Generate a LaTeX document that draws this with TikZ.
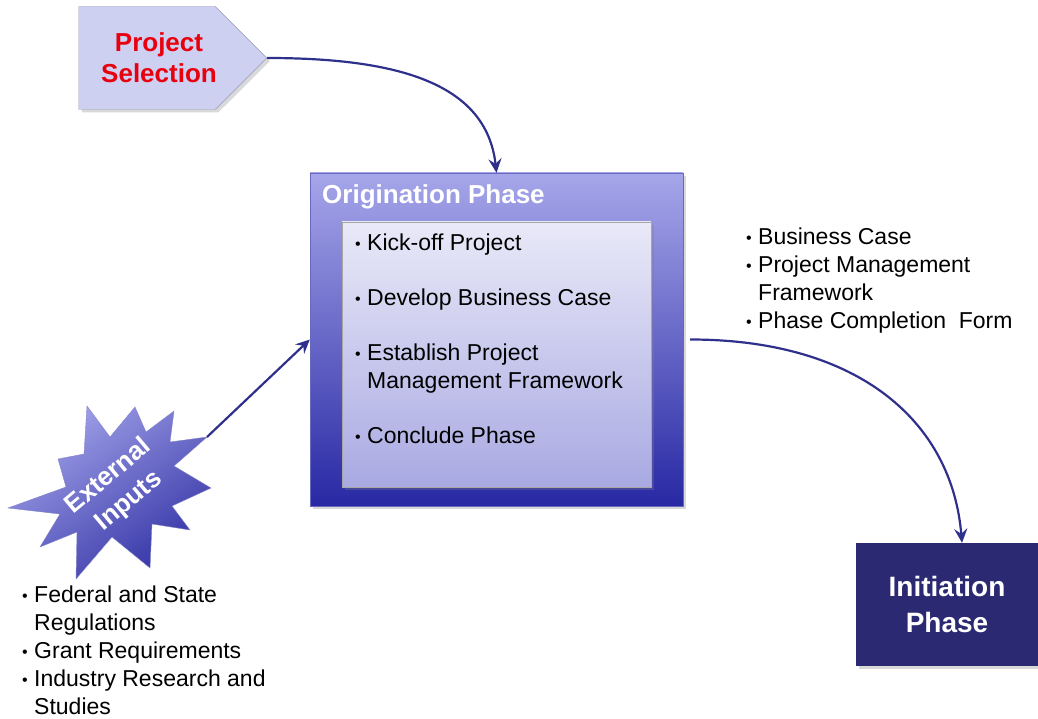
\documentclass[tikz,border=0pt]{standalone}
\usepackage{fontspec}
\setmainfont{Liberation Sans}
\usetikzlibrary{shapes.symbols,shadows,arrows.meta}

\definecolor{arrowblue}{HTML}{2F2F8C}
\definecolor{selfill}{HTML}{CDD0F1}
\definecolor{navybox}{HTML}{2A2972}
\definecolor{redtext}{HTML}{E8000E}
\definecolor{origtop}{HTML}{A6A6EA}
\definecolor{origmid}{HTML}{7E7ED8}
\definecolor{origbot}{HTML}{2828A4}
\definecolor{steptop}{HTML}{E9E9F8}
\definecolor{stepbot}{HTML}{A9A9E3}
\definecolor{starlight}{HTML}{A2A2EA}
\definecolor{stardark}{HTML}{3434A6}

\tikzset{
  flow/.style={draw=arrowblue, line width=2.2pt, -{Stealth[length=14pt,width=13pt,inset=5pt]}},
  softshadow/.style={drop shadow={opacity=0.3, shadow xshift=3pt, shadow yshift=-3pt}},
  listtext/.style={inner sep=0pt, align=left, font=\fontsize{23}{28}\selectfont}
}

\newcommand{\itm}[1]{\makebox[12pt][l]{\raisebox{1pt}{\fontsize{16}{16}\selectfont\textbullet}}#1}
\newcommand{\cnt}{\hspace*{12pt}}

\begin{document}
\begin{tikzpicture}[x=1pt, y=-1pt]
    \useasboundingbox (0,0) rectangle (1038,719);
    % project selection
    \node[signal, signal to=east, draw=blue!30!black!40, fill=selfill, softshadow, minimum width=188pt, minimum height=103pt] (sel) at (147,58) {};
    \node[text=redtext, font=\bfseries\fontsize{26}{31}\selectfont, align=center] (seltitle) at ([xshift=12pt]sel.center) {Project\\Selection};
    % origination phase
    \node[draw=origbot!70, top color=origtop, middle color=origmid, bottom color=origbot,
          minimum width=373pt, minimum height=333pt, softshadow] (orig) at (496.5,339.5) {};
    \node[anchor=base west, text=white, font=\bfseries\fontsize{26}{31}\selectfont, inner sep=0pt] (origtitle) at (322,204) {Origination Phase};
    \node[draw=black!35, top color=steptop, bottom color=stepbot, minimum width=309pt, minimum height=265pt,
          softshadow] (steps) at (496.5,354.5) {};
    \node[listtext, anchor=north west] (steplist) at (355,234) {\itm{Kick-off Project}\\[27pt]
        \itm{Develop Business Case}\\[27pt]
        \itm{Establish Project}\\
        \cnt Management Framework\\[27pt]
        \itm{Conclude Phase}};
    % external inputs
    \draw[draw=stardark!60, shading=axis, top color=starlight, bottom color=stardark, shading angle=35]
        (87,406) -- (110,437) -- (135,407) -- (146,432) -- (174,411) -- (170,442) -- (207,437) -- (174,466)
        -- (211,488) -- (172,506) -- (190,530) -- (152,524) -- (150,568) -- (112,537) -- (76,579) -- (77,532)
        -- (40,547) -- (60,514) -- (8,508) -- (66,487) -- (58,459) -- (84,454) -- cycle;
    \coordinate (exttip) at (207,437);
    \node[rotate=40, text=white, font=\bfseries\fontsize{26}{32}\selectfont, align=center] (ext) at (119,489) {External\\Inputs};
    \node[listtext, anchor=north west] (extlist) at (22,586) {\itm{Federal and State}\\
        \cnt Regulations\\
        \itm{Grant Requirements}\\
        \itm{Industry Research and}\\
        \cnt Studies};
    % outputs
    \node[listtext, anchor=north west] (outlist) at (746,228) {\itm{Business Case}\\
        \itm{Project Management}\\
        \cnt Framework\\
        \itm{Phase Completion~ Form}};
    % initiation phase
    \node[fill=navybox, softshadow, minimum width=182pt, minimum height=123pt, text=white, align=center,
          font=\bfseries\fontsize{28}{36}\selectfont] (init) at (947,604.5) {Initiation\\Phase};
    % connectors
    \draw[flow] (sel.east) .. controls +(130,0) and +(-10,-90) .. (orig.north);
    \draw[flow] (exttip) -- (orig.west);
    \draw[flow] ([xshift=7pt]orig.east) .. controls +(170,0) and +(-10,-120) .. ([xshift=15pt]init.north);
\end{tikzpicture}
\end{document}
